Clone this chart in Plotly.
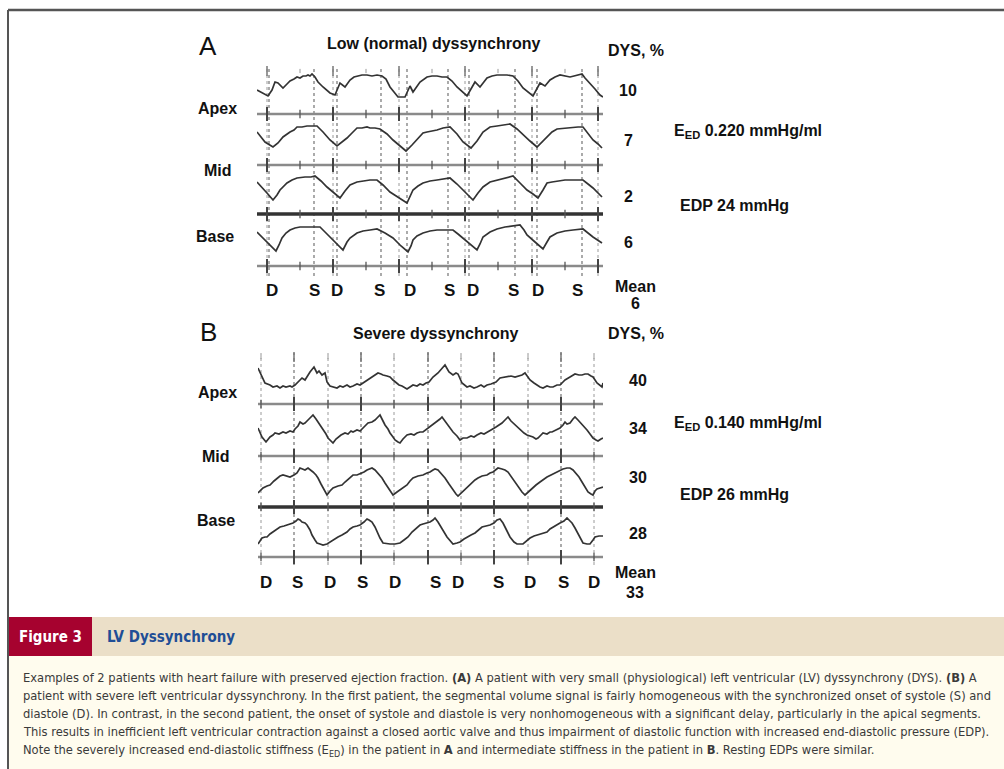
import plotly.graph_objects as go

W, H = 1004, 769

# ---------------- DATA ----------------
# time axis in samples; signal = segmental volume (a.u.) above each row baseline
rows = ["Apex", "Mid", "Base"]

a_apex = [(-10, 24), (-4, 21), (1, 18), (5, 24), (8, 32), (11, 31), (16, 26), (20, 30), (23, 33), (27, 35),
          (30, 37), (33, 36), (36, 38), (39, 38), (41, 39), (43, 38), (45, 40), (48, 37), (51, 32), (56, 27),
          (63, 21), (68, 19), (73, 31), (78, 27), (83, 34), (87, 37), (90, 38), (95, 39), (100, 39), (105, 38),
          (110, 39), (115, 38), (119, 35), (123, 27), (131, 17), (138, 17), (143, 28), (146, 22), (153, 32), (157, 35),
          (160, 37), (165, 38), (170, 38), (175, 37), (180, 37), (185, 33), (190, 27), (200, 18), (208, 32), (213, 27),
          (220, 36), (225, 38), (230, 39), (235, 39), (240, 39), (246, 38), (251, 33), (256, 26), (266, 18), (273, 31),
          (278, 28), (283, 34), (288, 37), (293, 39), (298, 38), (303, 37), (307, 38), (310, 39), (315, 40), (318, 36),
          (323, 31), (328, 25), (333, 19), (336, 17)]
a_mid = [(-10, 33), (-2, 23), (6, 18), (11, 22), (16, 28), (20, 31), (23, 33), (27, 35), (30, 38), (35, 38),
         (40, 39), (45, 39), (50, 39), (56, 33), (63, 25), (70, 19), (75, 23), (80, 27), (85, 32), (90, 37),
         (95, 37), (100, 38), (103, 37), (108, 37), (113, 36), (120, 31), (126, 25), (134, 18), (139, 14), (145, 20),
         (150, 25), (156, 32), (160, 33), (165, 34), (170, 35), (176, 37), (183, 38), (190, 31), (196, 23), (204, 17),
         (210, 24), (216, 33), (223, 38), (230, 39), (237, 40), (243, 41), (250, 36), (256, 30), (263, 24), (270, 18),
         (275, 23), (280, 28), (285, 33), (290, 36), (298, 37), (305, 38), (311, 38), (316, 38), (321, 32), (326, 25),
         (331, 21), (335, 17)]
a_mid2 = [(-10, 32), (-5, 26), (0, 21), (6, 14), (10, 19), (13, 24), (20, 31), (25, 34), (30, 36), (38, 37),
          (44, 37), (48, 38), (54, 33), (60, 27), (67, 21), (73, 16), (78, 23), (83, 29), (90, 32), (96, 33),
          (103, 34), (110, 34), (116, 29), (123, 22), (132, 16), (140, 11), (146, 24), (151, 28), (156, 31), (163, 33),
          (170, 34), (177, 35), (183, 36), (190, 30), (196, 24), (206, 14), (211, 21), (216, 27), (223, 32), (230, 34),
          (238, 36), (246, 38), (253, 31), (260, 24), (266, 20), (271, 16), (276, 24), (280, 31), (285, 32), (290, 33),
          (298, 34), (306, 34), (316, 34), (321, 30), (326, 26), (335, 17)]
a_base = [(-10, 34), (-5, 29), (0, 24), (5, 19), (9, 15), (12, 21), (15, 28), (19, 33), (23, 36), (28, 38),
          (33, 39), (43, 39), (53, 39), (58, 34), (63, 29), (70, 22), (76, 16), (80, 24), (83, 28), (90, 33),
          (96, 35), (103, 36), (110, 37), (118, 33), (126, 28), (134, 20), (141, 14), (144, 20), (146, 26), (150, 30),
          (156, 33), (163, 35), (170, 36), (178, 36), (186, 36), (191, 32), (196, 28), (203, 22), (210, 16), (213, 22),
          (216, 29), (223, 34), (230, 37), (238, 39), (245, 40), (253, 41), (257, 36), (260, 31), (268, 24), (276, 17),
          (280, 24), (283, 29), (290, 33), (298, 35), (306, 36), (316, 37), (321, 33), (326, 29), (335, 23)]

b_apex = [(-3, 36), (1, 27), (4, 21), (9, 19), (12, 17), (16, 18), (19, 16), (22, 18), (25, 17), (29, 18),
          (31, 17), (34, 19), (37, 22), (41, 26), (44, 24), (47, 29), (49, 32), (53, 37), (56, 31), (58, 33),
          (61, 29), (64, 31), (66, 22), (69, 18), (72, 17), (76, 16), (79, 18), (82, 17), (86, 19), (89, 17),
          (92, 18), (96, 20), (99, 19), (102, 21), (106, 24), (111, 27), (114, 29), (117, 31), (120, 30), (122, 29),
          (126, 28), (129, 27), (132, 24), (134, 22), (138, 19), (141, 18), (144, 16), (146, 15), (149, 17), (152, 19),
          (156, 18), (159, 20), (162, 19), (165, 21), (168, 22), (172, 27), (177, 31), (180, 34), (184, 39), (188, 32),
          (190, 30), (192, 29), (195, 31), (197, 30), (201, 21), (206, 17), (209, 18), (213, 16), (216, 17), (220, 19),
          (223, 17), (226, 19), (230, 20), (235, 22), (239, 26), (243, 27), (246, 27), (250, 28), (254, 27), (258, 28),
          (261, 29), (264, 31), (269, 24), (273, 21), (276, 19), (279, 17), (282, 16), (286, 18), (289, 17), (292, 17),
          (296, 19), (299, 19), (302, 22), (304, 24), (309, 27), (314, 30), (318, 29), (321, 29), (324, 30), (327, 30),
          (330, 28), (332, 27), (336, 21), (339, 18), (341, 17), (342, 21)]
b_mid = [(-3, 28), (1, 19), (5, 14), (7, 17), (9, 19), (12, 21), (14, 23), (18, 22), (22, 24), (25, 23),
         (29, 25), (32, 24), (34, 27), (37, 30), (39, 34), (42, 32), (44, 33), (47, 36), (49, 38), (52, 41),
         (55, 37), (57, 34), (60, 30), (62, 26), (65, 22), (67, 18), (70, 15), (72, 13), (75, 17), (77, 19),
         (80, 21), (84, 23), (87, 22), (90, 25), (92, 24), (96, 26), (99, 25), (102, 28), (105, 31), (107, 33),
         (111, 34), (114, 36), (117, 39), (119, 41), (122, 35), (124, 31), (127, 27), (129, 23), (132, 19), (134, 16),
         (137, 14), (139, 13), (142, 17), (146, 21), (150, 22), (153, 21), (156, 23), (159, 24), (162, 24), (166, 27),
         (169, 29), (173, 32), (176, 34), (179, 37), (181, 39), (184, 35), (186, 33), (189, 28), (192, 24), (196, 20),
         (199, 16), (202, 18), (206, 18), (210, 20), (213, 19), (216, 21), (220, 23), (223, 22), (226, 24), (230, 26),
         (235, 29), (238, 31), (241, 33), (244, 36), (247, 39), (250, 35), (252, 33), (256, 29), (259, 26), (263, 23),
         (266, 21), (269, 20), (272, 19), (275, 17), (277, 18), (280, 21), (282, 23), (286, 22), (289, 24), (291, 24),
         (295, 26), (299, 28), (302, 31), (304, 34), (306, 32), (309, 33), (312, 37), (314, 39), (317, 36), (319, 34),
         (322, 30), (326, 26), (329, 22), (332, 18), (335, 16), (337, 15), (340, 17), (342, 18)]
b_mid2 = [(-3, 14), (2, 19), (6, 21), (9, 22), (13, 26), (16, 29), (19, 31), (22, 32), (26, 31), (29, 30),
          (33, 32), (36, 34), (39, 39), (42, 38), (44, 37), (47, 39), (50, 37), (52, 35), (55, 32), (57, 29),
          (60, 23), (62, 19), (64, 15), (66, 12), (69, 16), (72, 19), (77, 21), (81, 22), (84, 25), (86, 27),
          (89, 30), (92, 32), (96, 32), (99, 33), (103, 35), (106, 37), (109, 38), (111, 39), (114, 37), (116, 35),
          (119, 32), (121, 29), (124, 24), (127, 19), (130, 15), (132, 12), (136, 15), (139, 17), (143, 20), (146, 22),
          (149, 26), (152, 29), (157, 31), (162, 32), (166, 34), (169, 35), (172, 37), (174, 38), (177, 37), (179, 35),
          (182, 32), (184, 29), (188, 23), (192, 17), (195, 13), (197, 11), (201, 15), (204, 17), (208, 21), (211, 24),
          (214, 27), (217, 29), (221, 31), (226, 32), (229, 34), (232, 35), (235, 37), (237, 39), (241, 38), (244, 37),
          (247, 35), (249, 32), (253, 26), (257, 20), (261, 15), (264, 12), (268, 16), (271, 19), (275, 22), (279, 25),
          (283, 28), (286, 30), (290, 32), (294, 34), (298, 36), (302, 38), (306, 39), (309, 39), (312, 37), (314, 35),
          (318, 30), (321, 25), (324, 20), (327, 15), (330, 13), (332, 12), (334, 16), (336, 18), (339, 19), (342, 20)]
b_base = [(-3, 13), (1, 19), (4, 20), (6, 20), (9, 23), (12, 25), (16, 28), (19, 30), (23, 31), (26, 32),
          (29, 33), (32, 34), (35, 36), (37, 38), (39, 37), (41, 35), (44, 34), (46, 32), (49, 27), (51, 22),
          (54, 17), (56, 14), (59, 13), (62, 12), (66, 13), (69, 15), (73, 18), (77, 20), (81, 22), (86, 25),
          (89, 28), (92, 30), (96, 31), (99, 32), (103, 35), (106, 38), (108, 37), (111, 35), (114, 30), (116, 25),
          (119, 19), (122, 14), (126, 13), (129, 13), (134, 13), (139, 14), (143, 17), (147, 20), (151, 25), (156, 30),
          (159, 32), (162, 33), (166, 34), (169, 35), (172, 37), (174, 39), (177, 35), (179, 32), (183, 25), (186, 20),
          (189, 16), (192, 13), (196, 14), (199, 15), (203, 18), (206, 20), (210, 22), (214, 24), (218, 27), (221, 30),
          (225, 31), (229, 32), (233, 34), (236, 37), (239, 38), (242, 34), (244, 30), (247, 24), (249, 20), (253, 15),
          (256, 13), (262, 13), (266, 16), (269, 19), (273, 21), (277, 22), (282, 24), (286, 25), (289, 28), (292, 30),
          (296, 32), (299, 34), (303, 36), (306, 39), (309, 36), (311, 34), (314, 29), (316, 25), (319, 19), (322, 14),
          (326, 13), (329, 13), (332, 17), (334, 20), (338, 21), (342, 21)]

a_ticks = [0, 33, 66, 99, 132, 165, 198, 231, 265, 298, 331]
b_ticks = [0, 33, 67, 100, 133, 167, 200, 233, 267, 300, 333]
a_onsets_D = [2, 70, 140, 202, 270]
a_onsets_S = [47, 114, 181, 248, 315]
a_label_x = [5, 47, 70, 112, 143, 182, 206, 246, 271, 310]
a_labels = ["D", "S", "D", "S", "D", "S", "D", "S", "D", "S"]
b_label_x = [5, 36, 69, 101, 134, 174, 197, 237, 269, 302, 333]
b_labels = ["D", "S", "D", "S", "D", "S", "D", "S", "D", "S", "D"]

a_dys = ["10", "7", "2", "6"]
b_dys = ["40", "34", "30", "28"]
a_mean, b_mean = "6", "33"
a_eed, b_eed = "0.220", "0.140"
a_edp, b_edp = "24", "26"

# ---------------- LAYOUT HELPERS ----------------
def fx(p):
    return p / W


def fy(p):
    return 1 - p / H


FONT = "Liberation Sans, Arial, sans-serif"
NARROW = "Liberation Sans Narrow, Arial Narrow, DejaVu Sans Condensed, sans-serif"
TRACE_C = "#333333"

panels = [
    dict(xa="x", ya="y", traces=[a_apex, a_mid, a_mid2, a_base], base=[171, 120, 71, 19], thick=2,
         ticks=a_ticks, major_par=0, xr=[-10, 336], vtop=217, vbot=9, topmark=214),
    dict(xa="x2", ya="y2", traces=[b_apex, b_mid, b_mid2, b_base], base=[171, 119, 68, 18], thick=2,
         ticks=b_ticks, major_par=1, xr=[-3, 342], vtop=222, vbot=10, topmark=218),
]

fig = go.Figure()

for pi, P in enumerate(panels):
    xa, ya = P["xa"], P["ya"]
    majors = [t for i, t in enumerate(P["ticks"]) if i % 2 == P["major_par"]]
    minors = [t for i, t in enumerate(P["ticks"]) if i % 2 != P["major_par"]]
    if pi == 0:
        light = majors
        dark = a_onsets_D + a_onsets_S
    else:
        light = minors
        dark = majors
    vx, vy = [], []
    for t in light:
        vx += [t, t, None]
        vy += [P["vbot"], P["vtop"], None]
    fig.add_trace(go.Scatter(x=vx, y=vy, xaxis=xa, yaxis=ya, mode="lines",
                             line=dict(color="#9a9a9a", width=1, dash="dot"), hoverinfo="skip"))
    vx, vy = [], []
    for t in dark:
        vx += [t, t, None]
        vy += [P["vbot"], P["vtop"], None]
    fig.add_trace(go.Scatter(x=vx, y=vy, xaxis=xa, yaxis=ya, mode="lines",
                             line=dict(color="#666666", width=1.1, dash="dot"), hoverinfo="skip"))
    fig.add_trace(go.Scatter(x=majors, y=[P["topmark"]] * len(majors), xaxis=xa, yaxis=ya, mode="markers",
                             marker=dict(symbol="line-ns", size=7, line=dict(width=1.5, color="#777")),
                             hoverinfo="skip"))
    fig.add_trace(go.Scatter(x=minors, y=[P["topmark"]] * len(minors), xaxis=xa, yaxis=ya, mode="markers",
                             marker=dict(symbol="line-ns", size=3, line=dict(width=1, color="#999")),
                             hoverinfo="skip"))
    for ri, b in enumerate(P["base"]):
        thick = ri == P["thick"]
        fig.add_trace(go.Scatter(x=P["xr"], y=[b, b], xaxis=xa, yaxis=ya, mode="lines",
                                 line=dict(color="#333" if thick else "#8a8a8a", width=3.5 if thick else 2.6),
                                 hoverinfo="skip"))
        fig.add_trace(go.Scatter(x=majors, y=[b] * len(majors), xaxis=xa, yaxis=ya, mode="markers",
                                 marker=dict(symbol="line-ns", size=10, line=dict(width=2, color="#444")),
                                 hoverinfo="skip"))
        fig.add_trace(go.Scatter(x=minors, y=[b] * len(minors), xaxis=xa, yaxis=ya, mode="markers",
                                 marker=dict(symbol="line-ns", size=6, line=dict(width=1.3, color="#555")),
                                 hoverinfo="skip"))
    for ri, tr in enumerate(P["traces"]):
        xs = [p[0] for p in tr]
        ys = [p[1] + P["base"][ri] for p in tr]
        fig.add_trace(go.Scatter(x=xs, y=ys, xaxis=xa, yaxis=ya, mode="lines",
                                 line=dict(color=TRACE_C, width=1.7), hoverinfo="skip"))

ax_common = dict(visible=False, showgrid=False, zeroline=False, fixedrange=True)
fig.update_layout(
    xaxis=dict(domain=[fx(257), fx(603)], range=panels[0]["xr"], anchor="y", **ax_common),
    yaxis=dict(domain=[fy(285), fy(55)], range=[0, 230], anchor="x", **ax_common),
    xaxis2=dict(domain=[fx(258), fx(603)], range=panels[1]["xr"], anchor="y2", **ax_common),
    yaxis2=dict(domain=[fy(575), fy(345)], range=[0, 230], anchor="x2", **ax_common),
)

ann = []


def T(x, y, text, size=16, bold=True, color="#111", xanchor="center", family=FONT):
    ann.append(dict(x=fx(x), y=fy(y), xref="paper", yref="paper",
                    text=f"<b>{text}</b>" if bold else text, showarrow=False,
                    xanchor=xanchor, yanchor="middle", font=dict(family=family, size=size, color=color)))


def TD(x, y, text, xref):
    ann.append(dict(x=x, y=fy(y), xref=xref, yref="paper", text=f"<b>{text}</b>", showarrow=False,
                    xanchor="center", yanchor="middle", font=dict(family=FONT, size=17, color="#111")))


# Panel A texts
T(208, 46, "A", size=26, bold=False)
T(433, 43, "Low (normal) dyssynchrony", size=16)
T(636, 50, "DYS, %", size=16)
for v, yy in zip(a_dys, [90, 140, 196, 242]):
    T(628, yy, v, size=16)
T(635, 286, "Mean", size=16)
T(635, 303, a_mean, size=16)
for lab, xx, yy in zip(rows, [217, 218, 215], [108, 170, 236]):
    T(xx, yy, lab, size=16)
T(672, 132, f"E<sub>ED</sub> {a_eed} mmHg/ml", size=16, xanchor="left")
T(678, 205, f"EDP {a_edp} mmHg", size=16, xanchor="left")
for lab, xx in zip(a_labels, a_label_x):
    TD(xx, 290, lab, "x")

# Panel B texts
T(208, 332, "B", size=26, bold=False)
T(436, 333, "Severe dyssynchrony", size=16)
T(636, 333, "DYS, %", size=16)
for v, yy in zip(b_dys, [380, 428, 477, 533]):
    T(638, yy, v, size=16)
T(635, 572, "Mean", size=16)
T(635, 592, b_mean, size=16)
for lab, xx, yy in zip(rows, [217, 216, 216], [392, 456, 520]):
    T(xx, yy, lab, size=16)
T(672, 423, f"E<sub>ED</sub> {b_eed} mmHg/ml", size=16, xanchor="left")
T(678, 494, f"EDP {b_edp} mmHg", size=16, xanchor="left")
for lab, xx in zip(b_labels, b_label_x):
    TD(xx, 582, lab, "x2")

# Caption
T(50, 637, "Figure 3", size=15, color="#ffffff", family=NARROW)
T(105, 637, "LV Dyssynchrony", size=15, color="#1f4e96", family=NARROW, xanchor="left")
caption = [
    "Examples of 2 patients with heart failure with preserved ejection fraction. <b>(A)</b> A patient with very small (physiological) left ventricular (LV) dyssynchrony (DYS). <b>(B)</b> A",
    "patient with severe left ventricular dyssynchrony. In the first patient, the segmental volume signal is fairly homogeneous with the synchronized onset of systole (S) and",
    "diastole (D). In contrast, in the second patient, the onset of systole and diastole is very nonhomogeneous with a significant delay, particularly in the apical segments.",
    "This results in inefficient left ventricular contraction against a closed aortic valve and thus impairment of diastolic function with increased end-diastolic pressure (EDP).",
    "Note the severely increased end-diastolic stiffness (E<sub>ED</sub>) in the patient in <b>A</b> and intermediate stiffness in the patient in <b>B</b>. Resting EDPs were similar.",
]
for i, line in enumerate(caption):
    T(21, 677 + i * 18.3, line, size=12.8, bold=False, color="#3a3a3a", family=NARROW, xanchor="left")

shapes = [
    dict(type="rect", xref="paper", yref="paper", x0=fx(8), x1=1, y0=fy(656), y1=fy(617),
         fillcolor="#ebdfc8", line=dict(width=0), layer="below"),
    dict(type="rect", xref="paper", yref="paper", x0=fx(9), x1=fx(92), y0=fy(656), y1=fy(617),
         fillcolor="#a6022f", line=dict(width=0), layer="below"),
    dict(type="rect", xref="paper", yref="paper", x0=fx(8), x1=1, y0=0, y1=fy(656),
         fillcolor="#fffcee", line=dict(width=0), layer="below"),
    dict(type="line", xref="paper", yref="paper", x0=fx(8), x1=1, y0=fy(10), y1=fy(10),
         line=dict(color="#555", width=2.5)),
    dict(type="line", xref="paper", yref="paper", x0=fx(8), x1=fx(8), y0=0, y1=fy(10),
         line=dict(color="#555", width=2)),
]

fig.update_layout(
    width=W, height=H, autosize=False, showlegend=False,
    margin=dict(l=0, r=0, t=0, b=0, pad=0),
    paper_bgcolor="white", plot_bgcolor="rgba(0,0,0,0)",
    annotations=ann, shapes=shapes,
)

fig.write_html("out.html", config={"displayModeBar": False})
